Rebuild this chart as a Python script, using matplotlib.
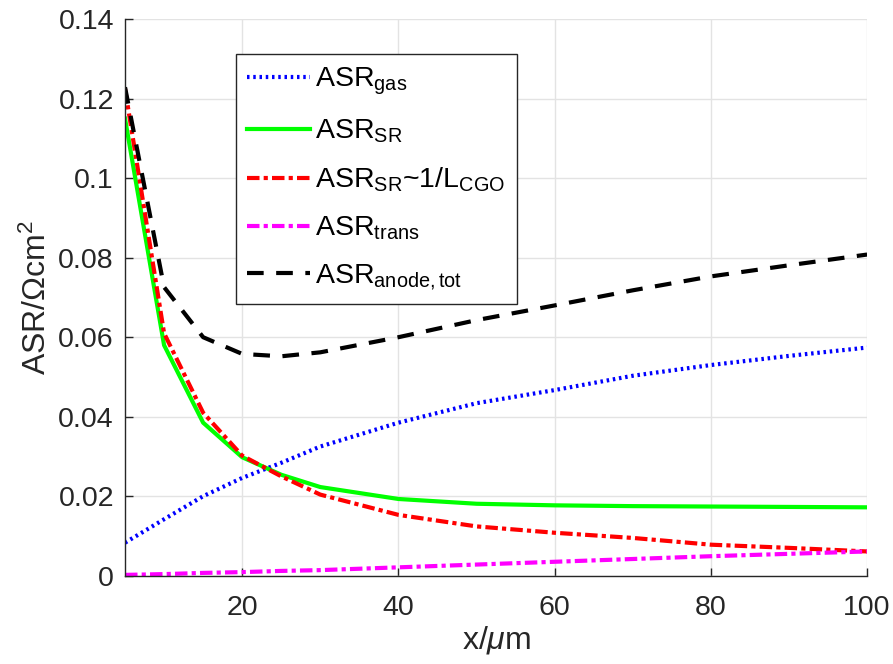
import matplotlib
matplotlib.use("Agg")
import matplotlib.pyplot as plt

plt.rcParams['font.family'] = ['Liberation Sans', 'DejaVu Sans']
plt.rcParams['mathtext.fontset'] = 'custom'
plt.rcParams['mathtext.rm'] = 'Liberation Sans'
plt.rcParams['mathtext.it'] = 'Liberation Sans:italic'

# anode thickness, um
x = [5, 10, 15, 20, 25, 30, 40, 50, 60, 70, 80, 90, 100]

asr_gas = [0.0083, 0.0142, 0.0200, 0.0246, 0.0284, 0.0325, 0.0385, 0.0434, 0.0467, 0.0503, 0.0530, 0.0553, 0.0574]
asr_sr = [0.1150, 0.0580, 0.0385, 0.0298, 0.0254, 0.0223, 0.0193, 0.0181, 0.0177, 0.0175, 0.0174, 0.0173, 0.0172]
asr_sr_cgo = [0.1225, 0.0610, 0.0410, 0.0302, 0.0250, 0.0204, 0.0153, 0.0124, 0.0108, 0.0095, 0.0078, 0.0070, 0.0061]
asr_trans = [0.0002, 0.0004, 0.0007, 0.0009, 0.0012, 0.0014, 0.0021, 0.0028, 0.0035, 0.0042, 0.0049, 0.0055, 0.0061]
asr_tot = [0.1229, 0.0726, 0.0600, 0.0558, 0.0552, 0.0562, 0.0600, 0.0643, 0.0680, 0.0718, 0.0753, 0.0781, 0.0808]

labels = [r'ASR$_{\mathrm{gas}}$', r'ASR$_{\mathrm{SR}}$', r'ASR$_{\mathrm{SR}}$~1/L$_{\mathrm{CGO}}$',
          r'ASR$_{\mathrm{trans}}$', r'ASR$_{\mathrm{anode,tot}}$']

fig = plt.figure(figsize=(8.93, 6.64), dpi=100)
ax = fig.add_axes([0.14, 0.133, 0.831, 0.838])

lw = 3
ax.plot(x, asr_gas, color=(0, 0, 1), linestyle=(0, (0.6, 0.9)), lw=lw, label=labels[0])
ax.plot(x, asr_sr, color=(0, 1, 0), linestyle='-', lw=lw, label=labels[1])
ax.plot(x, asr_sr_cgo, color=(1, 0, 0), linestyle=(0, (3, 1, 1, 1)), lw=lw, label=labels[2])
ax.plot(x, asr_trans, color=(1, 0, 1), linestyle=(0, (3, 1, 1, 1)), lw=lw, label=labels[3])
ax.plot(x, asr_tot, color='k', linestyle=(0, (4, 3)), lw=lw, label=labels[4])

ax.set_xlim(5, 100)
ax.set_ylim(0, 0.14)
ax.set_xticks([20, 40, 60, 80, 100])
ax.set_yticks([0, 0.02, 0.04, 0.06, 0.08, 0.1, 0.12, 0.14])
ax.set_yticklabels(['0', '0.02', '0.04', '0.06', '0.08', '0.1', '0.12', '0.14'])

ax.grid(True, color='#e3e3e3', lw=1)
ax.set_axisbelow(True)
for s in ['top', 'right']:
    ax.spines[s].set_visible(False)
for s in ['left', 'bottom']:
    ax.spines[s].set_color('#262626')
    ax.spines[s].set_linewidth(1)
ax.tick_params(direction='in', length=6, width=1, color='#262626', labelsize=20.5,
               labelcolor='#262626')
ax.tick_params(axis='y', pad=8)
ax.tick_params(axis='x', pad=14)

ax.set_xlabel(r'x/$\mu$m', fontsize=23, color='#262626', labelpad=2)
ax.set_ylabel(r'ASR/$\Omega$cm$^2$', fontsize=23, color='#262626', labelpad=4)

leg = ax.legend(loc='upper left', bbox_to_anchor=(0.149, 0.937), borderaxespad=0,
                fontsize=20.5, handlelength=2.2, labelspacing=0.72, fancybox=False,
                framealpha=1, edgecolor='#262626', borderpad=0.4, handletextpad=0.2)
leg.get_frame().set_linewidth(1)

fig.savefig('out.png', dpi=100)
